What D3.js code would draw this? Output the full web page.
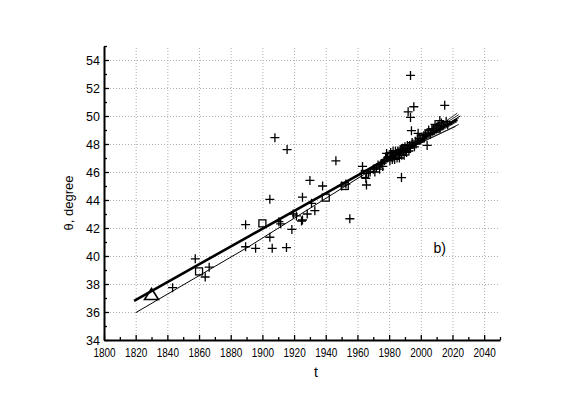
<!DOCTYPE html>
<html>
<head>
<meta charset="utf-8">
<script src="https://cdn.jsdelivr.net/npm/d3@7"></script>
<style>
  body { margin: 0; background: #fff; }
  svg text { font-family: "Liberation Sans", Arial, sans-serif; fill: #000; }
</style>
</head>
<body>
<div id="chart"></div>
<script>
// observed points (t, theta)
const crossPoints = [
    [1843.3, 37.74], [1857.6, 39.8], [1863.9, 38.5], [1866.4, 39.2], [1889.4, 42.24],
    [1889.4, 40.66], [1895.7, 40.55], [1904.7, 44.05], [1904.7, 41.34], [1906.2, 40.55],
    [1907.9, 48.45], [1910.4, 42.45], [1911.5, 42.3], [1915.2, 40.6], [1915.6, 47.6],
    [1918.6, 41.9], [1919.5, 43.0], [1921.5, 42.86], [1924.7, 42.5], [1925.3, 44.2],
    [1925.3, 42.57], [1928.3, 43.0], [1930, 45.4], [1931, 43.76], [1933.1, 43.24],
    [1938, 45.0], [1946.4, 46.8], [1950, 45.0], [1952.7, 45.14], [1955.2, 42.66],
    [1963.2, 46.4], [1965.3, 45.55], [1965.7, 45.07], [1965.7, 45.9], [1968, 46.0],
    [1970, 46.2], [1972, 46.3], [1975, 46.6], [1978.4, 47.33], [1978, 46.9],
    [1980, 47.1], [1981, 47.4], [1982, 46.9], [1983, 47.2], [1984, 47.5],
    [1985, 47.0], [1986, 47.3], [1987, 47.6], [1987.8, 45.6], [1988, 47.2],
    [1989, 47.5], [1990, 47.8], [1991, 47.4], [1992, 47.7], [1992, 50.3],
    [1993, 47.9], [1993.5, 52.9], [1993.5, 49.9], [1994.1, 48.95], [1995, 48.0],
    [1995.6, 50.66], [1996, 47.8], [1998.3, 48.76], [2000, 48.3], [2002, 48.6],
    [2004, 47.9], [2004, 48.8], [2005, 49.0], [2006, 48.7], [2008, 49.0],
    [2010, 49.2], [2012, 49.67], [2013, 49.5], [2014, 49.3], [2015.1, 50.76],
    [2016, 49.6], [2017, 49.4],
    [1971, 46.0], [1973, 46.5], [1974, 46.2], [1976, 46.4], [1977, 46.8],
    [1979, 47.0], [1980.5, 46.8], [1981.5, 47.1], [1982.5, 47.5], [1983.5, 46.9],
    [1984.5, 47.2], [1985.5, 47.5], [1986.5, 47.0], [1987.5, 47.4], [1988.5, 47.7],
    [1989.5, 47.2], [1990.5, 47.5], [1991.5, 47.9], [1992.5, 47.5], [1993.5, 47.7],
    [1994.5, 48.1], [1996.5, 48.2], [1997, 48.0], [1999, 48.4], [2001, 48.4],
    [2003, 48.7], [2007, 49.1], [2009, 49.4], [2011, 49.3]
];
const squarePoints = [
    [1860, 38.9], [1900, 42.33], [1940, 44.17], [1952, 45.0], [1964.7, 45.86],
    [1980, 47.1], [1990, 47.7], [2000, 48.4], [2010, 49.1]
];
const trianglePoints = [[1830, 37.25]];

// fitted curves
const thickLine = [[1819, 36.8], [1892, 41.44], [1968, 46.26], [2023, 49.75]];
const thinLine = [[1820, 35.95], [1892, 40.71], [1968, 46.1], [2025, 50.0]];
const fanLines = [
    [[1975, 46.5], [2024, 50.1]],
    [[1978, 46.8], [2024, 49.85]],
    [[1982, 47.0], [2023, 49.6]],
    [[1986, 47.3], [2024, 49.4]],
    [[1990, 47.6], [2022, 49.25]],
    [[1994, 47.9], [2023, 50.2]]
];

const xTicks = d3.range(1800, 2041, 20);
const yTicks = d3.range(34, 55, 2);
const xMinor = d3.range(1810, 2051, 20);
const yMinor = d3.range(35, 56, 2);

const W = 581, H = 408;
const svg = d3.select('#chart').append('svg')
    .attr('width', W)
    .attr('height', H);

const x = d3.scaleLinear().domain([1800, 2050]).range([104, 500]);
const y = d3.scaleLinear().domain([34, 55]).range([340, 46]);

// grid
const grid = svg.append('g')
    .attr('stroke', '#b0b0b0')
    .attr('stroke-width', 1)
    .attr('stroke-dasharray', '1,2');
grid.selectAll('.gx').data(xTicks.slice(1)).enter().append('line')
    .attr('x1', d => x(d) + 0.5).attr('x2', d => x(d) + 0.5)
    .attr('y1', y(34)).attr('y2', y(55));
grid.selectAll('.gy').data(yTicks.slice(1)).enter().append('line')
    .attr('x1', x(1800)).attr('x2', x(2050))
    .attr('y1', d => y(d) + 0.5).attr('y2', d => y(d) + 0.5);

// axes (ticks point inside)
const xAxis = svg.append('g')
    .attr('transform', `translate(0, ${y(34)})`)
    .call(d3.axisBottom(x).tickValues(xTicks).tickFormat(d3.format('d')).tickSizeInner(-5).tickSizeOuter(0).tickPadding(8));
xAxis.selectAll('.tick text').attr('transform', 'scale(0.8,1)');
xAxis.append('g')
    .call(d3.axisBottom(x).tickValues(xMinor).tickFormat('').tickSizeInner(-3).tickSizeOuter(0))
    .select('.domain').remove();

const yAxis = svg.append('g')
    .attr('transform', `translate(${x(1800)}, 0)`)
    .call(d3.axisLeft(y).tickValues(yTicks).tickSizeInner(-5).tickSizeOuter(0).tickPadding(4));
yAxis.append('g')
    .call(d3.axisLeft(y).tickValues(yMinor).tickFormat('').tickSizeInner(-3).tickSizeOuter(0))
    .select('.domain').remove();

svg.selectAll('.domain').attr('stroke', '#000').attr('stroke-width', 2);
svg.selectAll('.tick line').attr('stroke', '#000').attr('stroke-width', 1.3);
svg.selectAll('.tick text').style('font-size', '12.5px').attr('fill', '#000');

// axis titles
svg.append('text')
    .attr('x', 316).attr('y', 377)
    .attr('text-anchor', 'middle')
    .style('font-size', '14px')
    .text('t');
svg.append('text')
    .attr('transform', 'translate(73, 203) rotate(-90)')
    .attr('text-anchor', 'middle')
    .style('font-size', '13px')
    .text('θ, degree');

svg.append('text')
    .attr('x', x(2008)).attr('y', y(40.2))
    .style('font-size', '14px')
    .text('b)');

// curves
const line = d3.line().x(d => x(d[0])).y(d => y(d[1]));
const curves = svg.append('g').attr('fill', 'none').attr('stroke', '#000');
curves.selectAll('.fan').data(fanLines).enter().append('path')
    .attr('d', line).attr('stroke-width', 0.8);
curves.append('path').datum(thinLine).attr('d', line).attr('stroke-width', 1);
curves.append('path').datum(thickLine).attr('d', line).attr('stroke-width', 2.6);

// markers
const marks = svg.append('g').attr('fill', 'none').attr('stroke', '#000');
marks.selectAll('.cross').data(crossPoints).enter().append('path')
    .attr('d', d => {
        const cx = x(d[0]), cy = y(d[1]), r = 4.5;
        return `M${cx - r},${cy}H${cx + r}M${cx},${cy - r}V${cy + r}`;
    })
    .attr('stroke-width', 1.3);
marks.selectAll('.sq').data(squarePoints).enter().append('rect')
    .attr('x', d => x(d[0]) - 3.5).attr('y', d => y(d[1]) - 3.5)
    .attr('width', 7).attr('height', 7)
    .attr('stroke-width', 1.3);
marks.selectAll('.tri').data(trianglePoints).enter().append('path')
    .attr('d', d => {
        const cx = x(d[0]), cy = y(d[1]);
        return `M${cx},${cy - 6}L${cx + 7},${cy + 5}L${cx - 7},${cy + 5}Z`;
    })
    .attr('stroke-width', 1.6);
</script>
</body>
</html>
